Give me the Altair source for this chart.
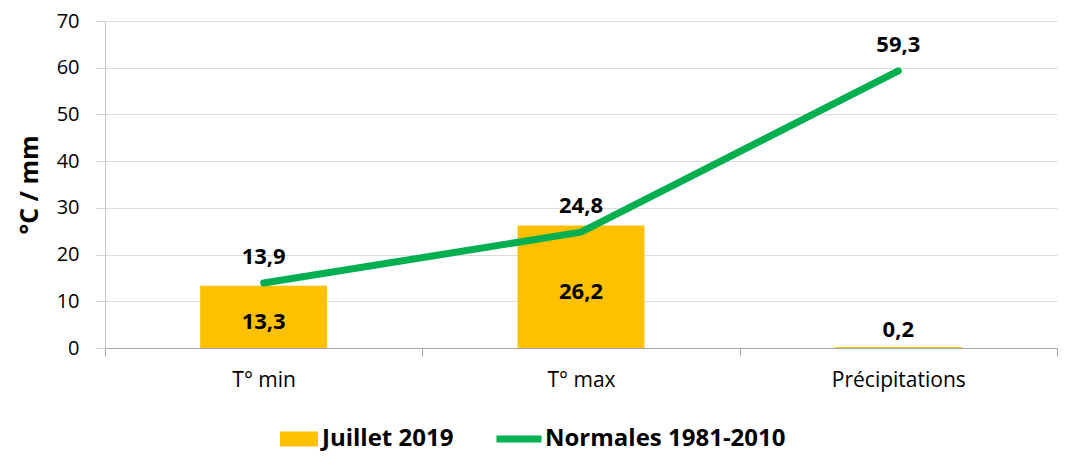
import altair as alt
import pandas as pd

categories = ["T° min", "T° max", "Précipitations"]
juillet_2019 = [13.3, 26.2, 0.2]
normales = [13.9, 24.8, 59.3]
bar_series = "Juillet 2019"
line_series = "Normales 1981-2010"

FONT = "Open Sans"

def fr(v):
    return f"{v:.1f}".replace(".", ",")

df = pd.DataFrame({
    "cat": categories,
    "juillet": juillet_2019,
    "normale": normales,
    "jlab": [fr(v) for v in juillet_2019],
    "nlab": [fr(v) for v in normales],
    "jpos": [max(v / 2, 5) for v in juillet_2019],
    "bs": [bar_series] * 3,
    "ls": [line_series] * 3,
})

x = alt.X("cat:N", sort=categories, title=None,
          scale=alt.Scale(paddingInner=0, paddingOuter=0),
          axis=alt.Axis(labelAngle=0, labelFont=FONT, labelFontSize=21, labelColor="#000000",
                        labelPadding=13, tickBand="extent", tickSize=8, tickColor="#A6A6A6",
                        domainColor="#A6A6A6", grid=False))

y_scale = alt.Scale(domain=[0, 70])
y_axis = alt.Axis(values=list(range(0, 71, 10)), title="°C / mm", titleFont=FONT,
                  titleFontSize=25, titleFontWeight="bold", titleColor="#000000", titlePadding=14,
                  labelFont=FONT, labelFontSize=20, labelColor="#000000", labelPadding=17,
                  tickSize=9, tickColor="#D0D0D0", domainColor="#C8C8C8",
                  gridColor="#DCDCDC", gridWidth=1)

base = alt.Chart(df)

bars = base.mark_bar(width=alt.RelativeBandSize(0.4), color="#FFC000").encode(
    x=x,
    y=alt.Y("juillet:Q", scale=y_scale, axis=y_axis),
    fill=alt.Fill("bs:N", scale=alt.Scale(range=["#FFC000"]),
                  legend=alt.Legend(title=None, orient="none", legendX=175, legendY=399,
                                    symbolType="M-1,-0.4H1V0.4H-1Z", symbolSize=1444,
                                    symbolStrokeWidth=0,
                                    labelFont=FONT, labelFontSize=24, labelFontWeight="bold",
                                    labelColor="#000000", labelOffset=4, labelLimit=0)),
)

line = base.mark_line(strokeWidth=7, strokeCap="round", strokeJoin="round").encode(
    x=x,
    y=alt.Y("normale:Q", scale=y_scale),
    stroke=alt.Stroke("ls:N", scale=alt.Scale(range=["#00B050"]),
                      legend=alt.Legend(title=None, orient="none", legendX=388, legendY=392,
                                        symbolType="stroke", symbolSize=2025, symbolStrokeWidth=7,
                                        labelFont=FONT, labelFontSize=24, labelFontWeight="bold",
                                        labelColor="#000000", labelOffset=0, labelLimit=0)),
)

bar_labels = base.mark_text(font=FONT, fontSize=22, fontWeight="bold", color="#000000",
                            baseline="middle", dy=5).encode(
    x=x, y=alt.Y("jpos:Q", scale=y_scale), text="jlab:N")

line_labels = base.mark_text(font=FONT, fontSize=22, fontWeight="bold", color="#000000",
                             baseline="middle", dy=-26).encode(
    x=x, y=alt.Y("normale:Q", scale=y_scale), text="nlab:N")

chart = alt.layer(bars, line, bar_labels, line_labels).properties(
    width=952, height=327,
    autosize=alt.AutoSizeParams(type="none"),
    padding={"left": 97, "top": 13, "right": 10, "bottom": 112},
).configure_view(stroke=None).resolve_scale(fill="independent", stroke="independent")

chart.save("out.html", embed_options={"renderer": "svg", "actions": False})
